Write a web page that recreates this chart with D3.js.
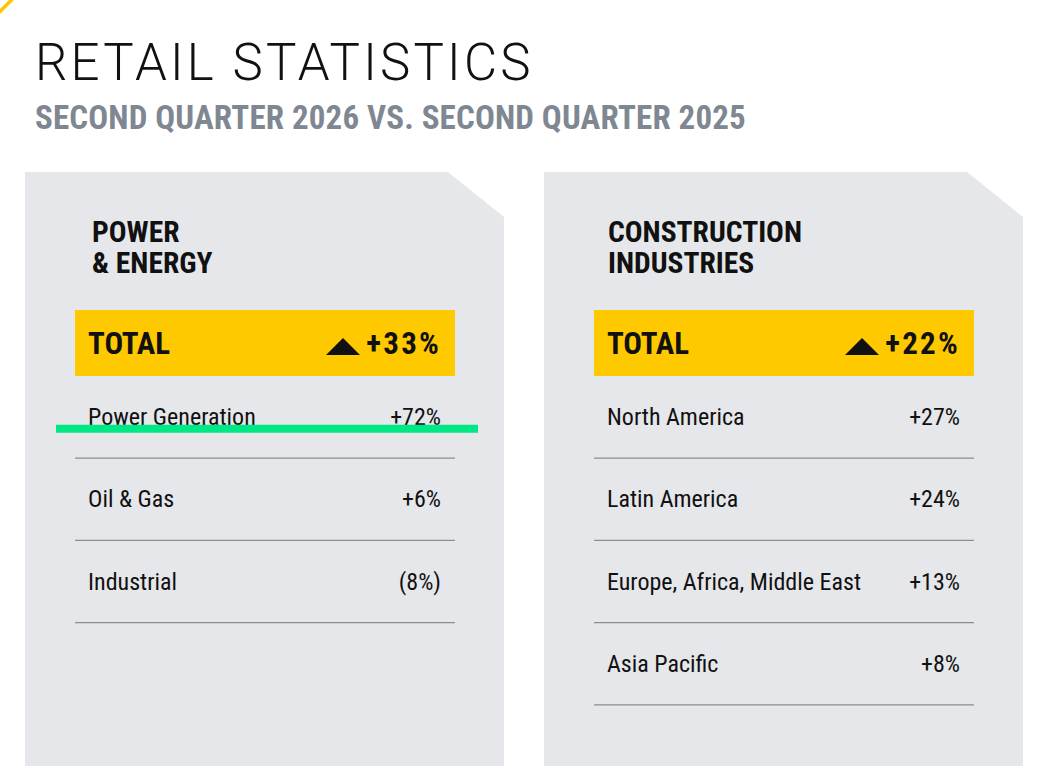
<!DOCTYPE html>
<html>
<head>
<meta charset="utf-8">
<script src="https://cdn.jsdelivr.net/npm/d3@7"></script>
<style>
  body { margin: 0; background: #fff; }
  .narrow { font-family: "Roboto Condensed", "Liberation Sans Narrow", "Arial Narrow", sans-serif; }
</style>
</head>
<body>
<script>
// Data
const sectors = ["POWER\n& ENERGY", "CONSTRUCTION\nINDUSTRIES"];
const totals = ["+33%", "+22%"];
const powerRows = ["Power Generation", "Oil & Gas", "Industrial"];
const powerValues = ["+72%", "+6%", "(8%)"];
const constructionRows = ["North America", "Latin America", "Europe, Africa, Middle East", "Asia Pacific"];
const constructionValues = ["+27%", "+24%", "+13%", "+8%"];
const highlighted = "Power Generation";

const rowsBySector = [
  powerRows.map((r, i) => ({ label: r, value: powerValues[i] })),
  constructionRows.map((r, i) => ({ label: r, value: constructionValues[i] }))
];

let width = 1061,
    height = 782;

let svg = d3.select('body')
  .append('svg')
  .attr('width', width)
  .attr('height', height);

// little yellow mark in the corner
svg.append('polygon')
  .attr('points', '0,9 9,0 14,0 0,14')
  .attr('fill', '#ffc400');

// Title
svg.append('text')
  .attr('x', 35)
  .attr('y', 80)
  .style('font-family', 'Roboto, sans-serif')
  .style('font-weight', 300)
  .style('font-size', '51px')
  .style('letter-spacing', '3.2px')
  .attr('fill', '#111')
  .text('RETAIL STATISTICS');

svg.append('text')
  .attr('class', 'narrow')
  .attr('x', 35)
  .attr('y', 129)
  .style('font-weight', 'bold')
  .style('font-size', '33px')
  .style('letter-spacing', '0.15px')
  .attr('fill', '#7f8792')
  .text('SECOND QUARTER 2026 VS. SECOND QUARTER 2025');

// Scales
let xPanel = d3.scaleBand()
  .domain(sectors)
  .range([25, 1023])
  .paddingInner(0.077);

let yRow = d3.scaleLinear()
  .domain([0, 1])
  .range([376, 458.2]);

const panelTop = 172, panelBottom = 766, cut = 56, cutDrop = 45;

let panels = svg.selectAll('g.panel')
  .data(sectors)
  .enter()
  .append('g')
  .attr('class', 'panel')
  .attr('transform', d => `translate(${xPanel(d)},0)`);

const bw = xPanel.bandwidth();

// panel shape with the clipped corner
panels.append('path')
  .attr('d', `M0,${panelTop} H${bw - cut} L${bw},${panelTop + cutDrop} V${panelBottom} H0 Z`)
  .attr('fill', '#e6e7ea');

// sector heading, one text per line
panels.selectAll('text.heading')
  .data((d, i) => d.split('\n').map(t => ({ t, i })))
  .enter()
  .append('text')
  .attr('class', 'narrow heading')
  .attr('x', d => d.i === 0 ? 67 : 64)
  .attr('y', (d, j) => 242 + j * 31)
  .style('font-weight', 'bold')
  .style('font-size', '29.5px')
  .attr('fill', '#111')
  .text(d => d.t);

// total bar
panels.append('rect')
  .attr('x', 50)
  .attr('y', 310)
  .attr('width', 380)
  .attr('height', yRow(0) - 310)
  .attr('fill', '#ffc900');

panels.append('text')
  .attr('class', 'narrow')
  .attr('x', 63)
  .attr('y', 354)
  .style('font-weight', 'bold')
  .style('font-size', '31px')
  .attr('fill', '#111')
  .text('TOTAL');

panels.append('text')
  .attr('class', 'narrow')
  .attr('x', 416)
  .attr('y', 354)
  .attr('text-anchor', 'end')
  .style('font-weight', 'bold')
  .style('font-size', '31px')
  .style('letter-spacing', '2.2px')
  .attr('fill', '#111')
  .text((d, i) => totals[i]);

panels.append('path')
  .attr('d', 'M301,355 L318,338 L335,355 Z')
  .attr('fill', '#111');

// rows
let rows = panels.selectAll('g.row')
  .data((d, i) => rowsBySector[i])
  .enter()
  .append('g')
  .attr('class', 'row');

rows.append('line')
  .attr('x1', 50)
  .attr('x2', 430)
  .attr('y1', (d, i) => yRow(i + 1))
  .attr('y2', (d, i) => yRow(i + 1))
  .attr('stroke', '#8b8d91')
  .attr('stroke-width', 1.3);

rows.append('text')
  .attr('class', 'narrow')
  .attr('x', 63)
  .attr('y', (d, i) => yRow(i + 1) - 33)
  .style('font-size', '24px')
  .attr('fill', '#111')
  .text(d => d.label);

rows.append('text')
  .attr('class', 'narrow')
  .attr('x', 416)
  .attr('y', (d, i) => yRow(i + 1) - 33)
  .attr('text-anchor', 'end')
  .style('font-size', '24px')
  .attr('fill', '#111')
  .text(d => d.value);

// green highlight stroke over the highlighted row
rows.filter(d => d.label === highlighted)
  .append('line')
  .attr('x1', 31)
  .attr('x2', 453)
  .attr('y1', (d, i) => yRow(i + 1) - 29.5)
  .attr('y2', (d, i) => yRow(i + 1) - 29.5)
  .attr('stroke', '#00e786')
  .attr('stroke-width', 8);
</script>
</body>
</html>
